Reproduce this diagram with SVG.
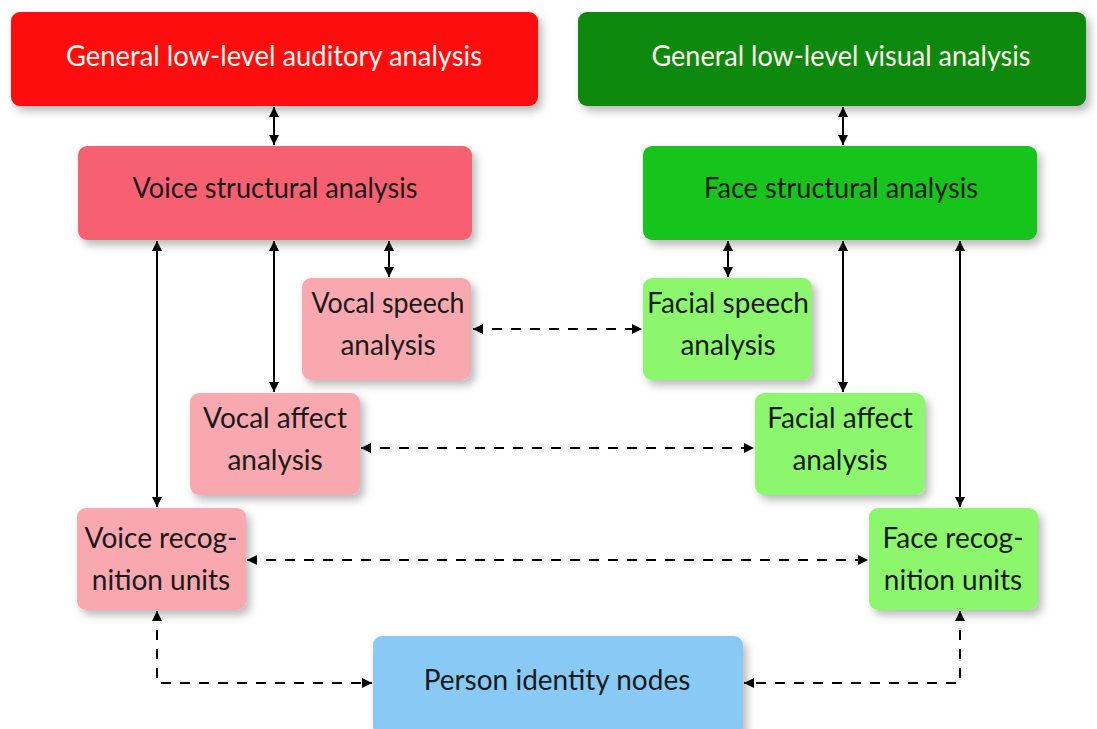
<svg xmlns="http://www.w3.org/2000/svg" width="1097" height="729" viewBox="0 0 1097 729">
<defs>
<filter id="sh" x="-10%" y="-20%" width="130%" height="150%">
<feDropShadow dx="4" dy="5" stdDeviation="4" flood-color="#000" flood-opacity="0.28"/>
</filter>
<marker id="ah" viewBox="0 0 10 10" refX="10" refY="5" markerWidth="10" markerHeight="10" markerUnits="userSpaceOnUse" orient="auto-start-reverse">
<path d="M0,0 L10,5 L0,10 Z" fill="#000"/>
</marker>
</defs>
<style>
.n rect{filter:url(#sh)}
text{font-family:Lato,"Open Sans","Liberation Sans",sans-serif;font-size:28px;text-anchor:middle;fill:#1a1a1a}
.w{fill:#fff8f0}
.c line,.c path{stroke:#000;stroke-width:2;fill:none;marker-start:url(#ah);marker-end:url(#ah)}
.c .d{stroke-dasharray:10 9}
</style>
<g class="c" id="connectors">
<line x1="274" y1="107" x2="274" y2="145"/>
<line x1="843" y1="107" x2="843" y2="145"/>
<line x1="157" y1="241" x2="157" y2="507"/>
<line x1="274" y1="241" x2="274" y2="392"/>
<line x1="389" y1="241" x2="389" y2="277"/>
<line x1="728" y1="241" x2="728" y2="277"/>
<line x1="843" y1="241" x2="843" y2="392"/>
<line x1="960" y1="241" x2="960" y2="507"/>
<line class="d" x1="473" y1="329" x2="642" y2="329"/>
<line class="d" x1="361" y1="448" x2="754" y2="448"/>
<line class="d" x1="247" y1="560" x2="868" y2="560"/>
<path class="d" d="M157,611 L157,683 L372,683"/>
<path class="d" d="M960,611 L960,683 L744,683"/>
</g>
<g class="n" id="aud"><rect x="11" y="12" width="527" height="94" rx="9" fill="#fd0a0a"/><text class="w" x="274" y="66" textLength="416" lengthAdjust="spacingAndGlyphs">General low-level auditory analysis</text></g>
<g class="n" id="vis"><rect x="578" y="12" width="508" height="94" rx="9" fill="#098a0e"/><text class="w" x="841" y="66" textLength="379" lengthAdjust="spacingAndGlyphs">General low-level visual analysis</text></g>
<g class="n" id="vsa"><rect x="78" y="146" width="394" height="94" rx="9" fill="#f7616f"/><text x="275" y="198" textLength="285" lengthAdjust="spacingAndGlyphs">Voice structural analysis</text></g>
<g class="n" id="fsa"><rect x="643" y="146" width="394" height="94" rx="9" fill="#19c41b"/><text x="841" y="198" textLength="274" lengthAdjust="spacingAndGlyphs">Face structural analysis</text></g>
<g class="n" id="vsp"><rect x="302" y="278" width="169" height="102" rx="9" fill="#f9a8b0"/><text x="388" y="313" textLength="153" lengthAdjust="spacingAndGlyphs">Vocal speech</text><text x="388" y="355">analysis</text></g>
<g class="n" id="fsp"><rect x="643" y="278" width="169" height="102" rx="9" fill="#8cf76c"/><text x="728" y="313">Facial speech</text><text x="728" y="355">analysis</text></g>
<g class="n" id="vaf"><rect x="190" y="393" width="170" height="102" rx="9" fill="#f9a8b0"/><text x="275" y="428">Vocal affect</text><text x="275" y="470">analysis</text></g>
<g class="n" id="faf"><rect x="755" y="393" width="170" height="102" rx="9" fill="#8cf76c"/><text x="840" y="428">Facial affect</text><text x="840" y="470">analysis</text></g>
<g class="n" id="vru"><rect x="77" y="508" width="169" height="102" rx="9" fill="#f9a8b0"/><text x="161" y="548">Voice recog-</text><text x="161" y="590">nition units</text></g>
<g class="n" id="fru"><rect x="869" y="508" width="169" height="102" rx="9" fill="#8cf76c"/><text x="953" y="548">Face recog-</text><text x="953" y="590">nition units</text></g>
<g class="n" id="pin"><rect x="373" y="636" width="370" height="100" rx="9" fill="#89c9f5"/><text x="557" y="690">Person identity nodes</text></g>
</svg>
